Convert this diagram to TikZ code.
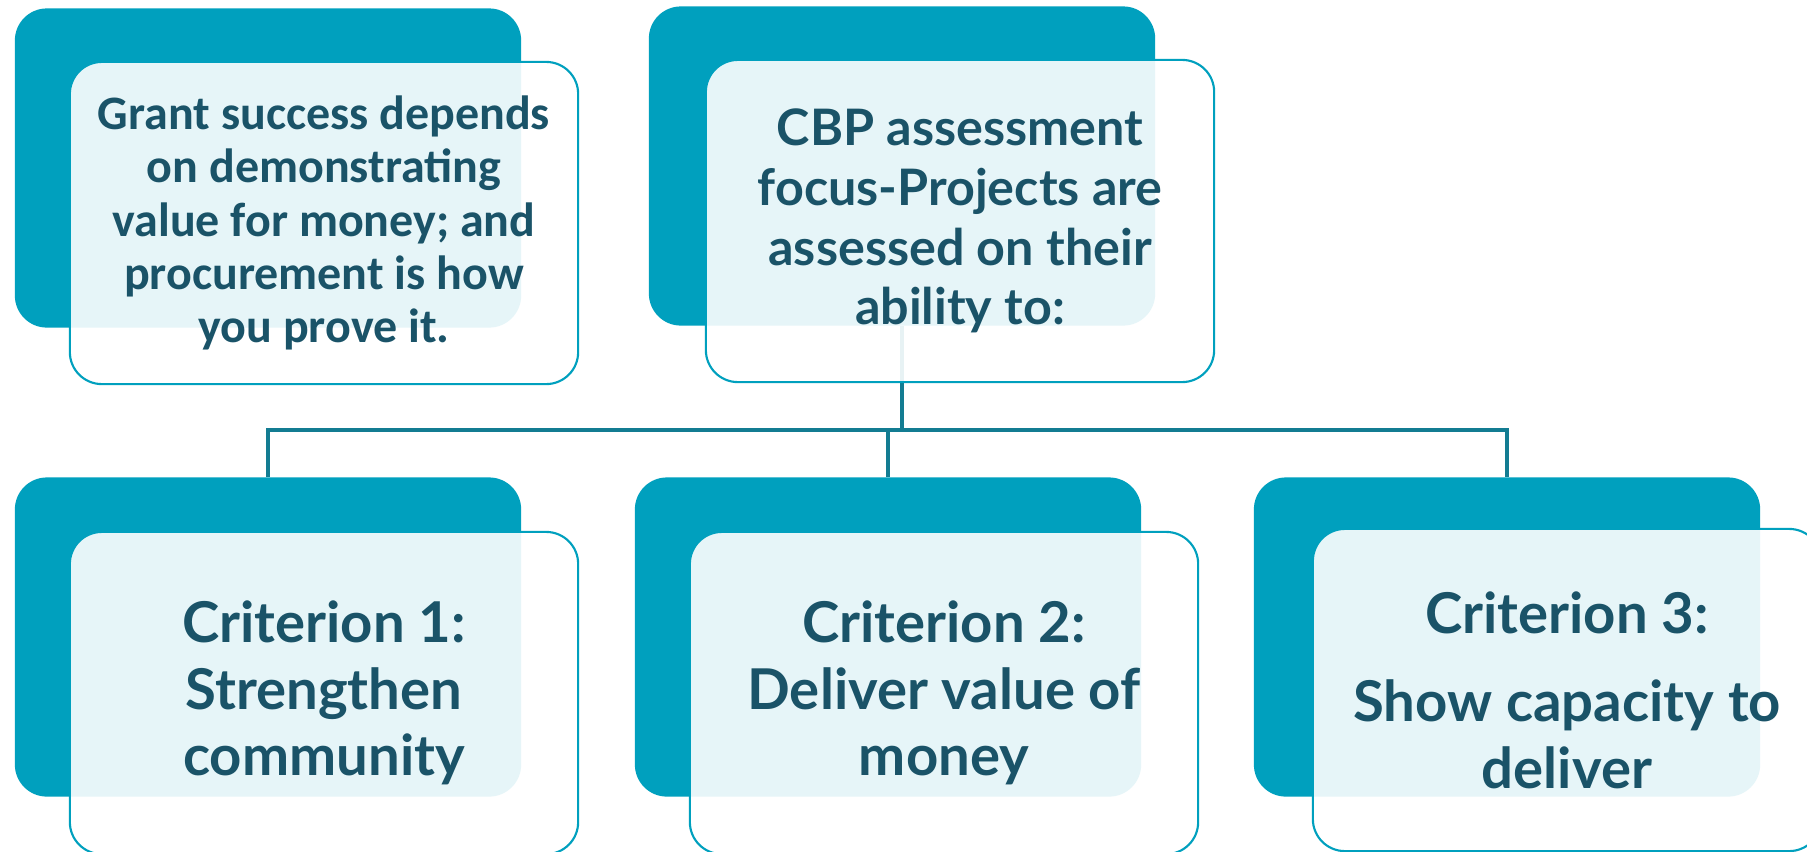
\documentclass[tikz,border=0pt]{standalone}
\usepackage{fontspec}
\setmainfont{Lato}
\newfontfamily\calibri{Carlito}
\definecolor{teal1}{HTML}{00A0BE}
\definecolor{ink}{HTML}{1A5368}
\definecolor{wire}{HTML}{137C92}

\begin{document}
\begin{tikzpicture}[x=0.01cm, y=-0.01cm,
    back/.style={rectangle, rounded corners=0.32cm, fill=teal1,
      minimum width=5.06cm, minimum height=3.19cm},
    front/.style={rectangle, rounded corners=0.32cm, draw=teal1, line width=0.6pt,
      fill=white, fill opacity=0.9, text opacity=1, text=ink,
      minimum width=5.08cm, minimum height=3.22cm, align=center},
    wire/.style={draw=wire, line width=0.9pt}]
  \useasboundingbox (0,0) rectangle (1807,851);
  \fill[white] (0,0) rectangle (1807,851);
  \clip (0,0) rectangle (1807,851);
  % dark boxes
  \node[back] (grant-bg) at (268,168) {};
  \node[back] (cbp-bg) at (902,166) {};
  \node[back] (crit1-bg) at (268,637) {};
  \node[back] (crit2-bg) at (888,637) {};
  \node[back] (crit3-bg) at (1507,637) {};
  % connectors
  \coordinate (hub) at (902,430);
  \draw[wire] (cbp-bg.south) -- (hub);
  \draw[wire] (crit1-bg.north) |- (hub) -| (crit3-bg.north);
  \draw[wire] (crit2-bg.north) -- (crit2-bg.north |- hub);
  % front boxes
  \node[front, font=\calibri\bfseries\fontsize{13.65}{15.2}\selectfont] (grant) at (324,223)
    {Grant success depends\\ on demonstrating\\ value for money; and\\ procurement is how\\ you prove it.};
  \node[front, font=\bfseries\fontsize{14.3}{17}\selectfont] (cbp) at (960,221)
    {CBP assessment\\ focus-Projects are\\ assessed on their\\ ability to:};
  \node[front, font=\bfseries\fontsize{16}{19}\selectfont] (crit1) at (324,693)
    {Criterion 1:\\ Strengthen\\ community};
  \node[front, font=\bfseries\fontsize{16}{19}\selectfont] (crit2) at (944,693)
    {Criterion 2:\\ Deliver value of\\ money};
  \node[front, font=\bfseries\fontsize{16}{19}\selectfont] (crit3) at (1567,690)
    {Criterion 3:\\[6pt] Show capacity to\\ deliver};
\end{tikzpicture}
\end{document}
